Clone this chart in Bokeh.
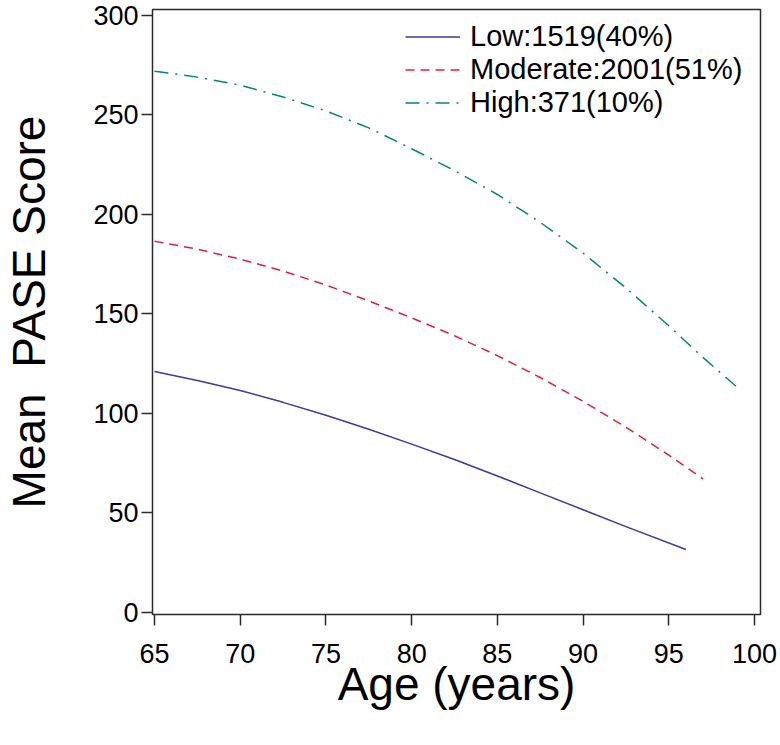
from bokeh.plotting import figure
from bokeh.models import Range1d, FixedTicker, Legend, LegendItem
from bokeh.embed import file_html
from bokeh.resources import INLINE

# Data
age_low = [65, 67.5, 70, 72.5, 75, 77.5, 80, 82.5, 85, 87.5, 90, 92.5, 96]
pase_low = [121, 116.5, 111.5, 105.5, 99, 92, 84.5, 76.8, 68.5, 60, 51.5, 43, 31.5]

age_mod = [65, 67.5, 70, 72.5, 75, 77.5, 80, 82.5, 85, 87.5, 90, 92.5, 95, 97]
pase_mod = [186.5, 182.5, 177.5, 171.5, 164.5, 156.5, 148, 139, 129, 118, 106, 93, 79, 67]

age_high = [65, 67.5, 70, 72.5, 75, 77.5, 80, 82.5, 85, 87.5, 90, 92.5, 95, 97, 99]
pase_high = [272, 269, 265, 259, 252, 243.5, 233, 222, 210, 196, 180.5, 163, 144, 128, 113]

labels = ["Low:1519(40%)", "Moderate:2001(51%)", "High:371(10%)"]
x_ticks = [65, 70, 75, 80, 85, 90, 95, 100]
y_ticks = [0, 50, 100, 150, 200, 250, 300]

FONT = "Liberation Sans"

p = figure(output_backend="svg", toolbar_location=None,
           frame_width=608, frame_height=605,
           min_border_left=146, min_border_top=9, min_border_right=18,
           min_border_bottom=108,
           x_range=Range1d(64.883, 100.35), y_range=Range1d(-1.16, 303.0))

p.xgrid.visible = False
p.ygrid.visible = False
p.outline_line_color = "#2b2b2b"
p.outline_line_width = 1.5
p.background_fill_color = "white"
p.border_fill_color = "white"

for ax in (p.xaxis[0], p.yaxis[0]):
    ax.axis_line_color = None
    ax.major_tick_in = 0
    ax.major_tick_out = 11
    ax.major_tick_line_color = "#2b2b2b"
    ax.major_tick_line_width = 1.5
    ax.minor_tick_line_color = None
    ax.major_label_text_font = FONT
    ax.major_label_text_color = "black"
    ax.axis_label_text_font = FONT
    ax.axis_label_text_font_style = "normal"
    ax.axis_label_text_color = "black"
    ax.axis_label_text_font_size = "46px"

p.xaxis.ticker = FixedTicker(ticks=x_ticks)
p.yaxis.ticker = FixedTicker(ticks=y_ticks)
p.xaxis.major_label_text_font_size = "27px"
p.yaxis.major_label_text_font_size = "27px"
p.xaxis.major_label_standoff = 18
p.yaxis.major_label_standoff = 3
p.xaxis.axis_label = "Age (years)"
p.yaxis.axis_label = "Mean\u00a0 PASE Score"
p.xaxis.axis_label_standoff = -8
p.yaxis.axis_label_standoff = 35

r_low = p.line(age_low, pase_low, line_color="#3f389e", line_width=1.5)
r_mod = p.line(age_mod, pase_mod, line_color="#e0203f", line_width=1.5,
               line_dash="9 6")
r_high = p.line(age_high, pase_high, line_color="#00876f", line_width=1.5,
                line_dash="14 7 2 7")

legend = Legend(items=[LegendItem(label=labels[0], renderers=[r_low]),
                       LegendItem(label=labels[1], renderers=[r_mod]),
                       LegendItem(label=labels[2], renderers=[r_high])],
                location=(253, 495))
legend.border_line_color = None
legend.background_fill_alpha = 0
legend.padding = 0
legend.spacing = 0
legend.margin = 0
legend.glyph_width = 55
legend.glyph_height = 33
legend.label_height = 33
legend.label_standoff = 10
legend.label_text_font = FONT
legend.label_text_font_size = "29px"
legend.label_text_color = "black"
p.add_layout(legend)

open("out.html", "w").write(file_html(p, INLINE))
